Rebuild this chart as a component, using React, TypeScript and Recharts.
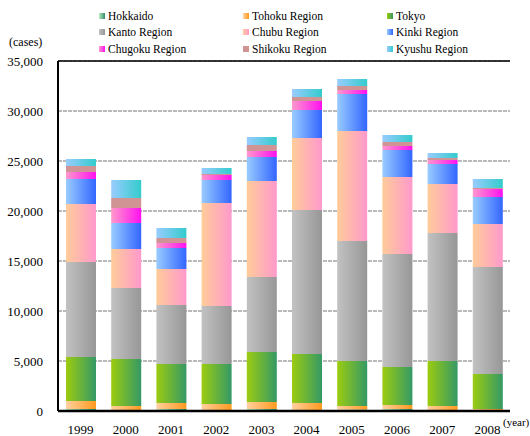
import React from "react";
import { Bar, BarChart, CartesianGrid, ReferenceLine, XAxis, YAxis } from "recharts";

const years = ["1999", "2000", "2001", "2002", "2003", "2004", "2005", "2006", "2007", "2008"];

// cases per region, stacked bottom to top
const hokkaido = [200, 50, 200, 30, 200, 30, 150, 200, 30, 30];
const tohoku = [800, 450, 600, 670, 700, 770, 350, 400, 470, 170];
const tokyo = [4400, 4700, 3900, 4000, 5000, 4900, 4500, 3800, 4500, 3500];
const kanto = [9500, 7100, 5900, 5800, 7500, 14400, 12000, 11300, 12800, 10700];
const chubu = [5800, 3900, 3600, 10300, 9600, 7200, 11000, 7700, 4900, 4300];
const kinki = [2500, 2600, 2100, 2300, 2400, 2800, 3700, 2700, 2000, 2700];
const chugoku = [700, 1500, 500, 500, 600, 900, 400, 400, 400, 800];
const shikoku = [600, 1000, 500, 100, 600, 400, 400, 400, 200, 100];
const kyushu = [700, 1800, 1000, 600, 800, 800, 700, 700, 500, 900];

const yTicks = [0, 5000, 10000, 15000, 20000, 25000, 30000, 35000];

const series = [
  { key: "hokkaido", name: "Hokkaido", values: hokkaido, from: "#b8ecc4", to: "#2f8a6a" },
  { key: "tohoku", name: "Tohoku Region", values: tohoku, from: "#ffd0a0", to: "#ff9a1e" },
  { key: "tokyo", name: "Tokyo", values: tokyo, from: "#9ccc10", to: "#349966" },
  { key: "kanto", name: "Kanto Region", values: kanto, from: "#c2c2c2", to: "#979797" },
  { key: "chubu", name: "Chubu Region", values: chubu, from: "#ffcc99", to: "#ff99cc" },
  { key: "kinki", name: "Kinki Region", values: kinki, from: "#99ccff", to: "#3366ff" },
  { key: "chugoku", name: "Chugoku Region", values: chugoku, from: "#ff99cc", to: "#ff10f0" },
  { key: "shikoku", name: "Shikoku Region", values: shikoku, from: "#d09494", to: "#d09494" },
  { key: "kyushu", name: "Kyushu Region", values: kyushu, from: "#99ccff", to: "#33cccc" },
];

const data = years.map((year, i) => {
  const row: Record<string, string | number> = { year };
  series.forEach((s) => (row[s.key] = s.values[i]));
  return row;
});

const font = "'Liberation Serif', 'Times New Roman', serif";

const Legend3 = () => (
  <>
    {series.map((s, i) => {
      const col = i % 3;
      const row = Math.floor(i / 3);
      const x = 99 + col * 144;
      const cy = 15.5 + row * 16.5;
      return (
        <div key={s.key}>
          <div
            style={{
              position: "absolute",
              left: x,
              top: cy - 3,
              width: 6,
              height: 6,
              background: `linear-gradient(to right, ${s.from}, ${s.to})`,
            }}
          />
          <div
            style={{
              position: "absolute",
              left: x + 9,
              top: cy - 8,
              lineHeight: "16px",
              fontSize: 11.5,
              whiteSpace: "nowrap",
            }}
          >
            {s.name}
          </div>
        </div>
      );
    })}
  </>
);

export default function App() {
  return (
    <div style={{ position: "relative", width: 530, height: 436, fontFamily: font, color: "#000" }}>
      <style>{`body{margin:0} svg text{font-family:${font}}`}</style>
      <Legend3 />
      <div style={{ position: "absolute", left: 9, top: 34, fontSize: 12, lineHeight: "16px" }}>(cases)</div>
      <div style={{ position: "absolute", left: 503, top: 414, fontSize: 11, lineHeight: "16px" }}>(year)</div>
      <BarChart
        width={530}
        height={436}
        data={data}
        margin={{ top: 61, right: 20, bottom: 0, left: 0 }}
        style={{ position: "absolute", left: 0, top: 0 }}
      >
        <defs>
          {series.map((s) => (
            <linearGradient key={s.key} id={`grad-${s.key}`} x1="0" y1="0" x2="1" y2="0">
              <stop offset="0%" stopColor={s.from} />
              <stop offset="100%" stopColor={s.to} />
            </linearGradient>
          ))}
        </defs>
        <CartesianGrid vertical={false} stroke="#a4a4a4" strokeWidth={1.5} strokeDasharray="4 1" />
        <XAxis
          dataKey="year"
          height={25}
          tickSize={0}
          tickMargin={14}
          axisLine={{ stroke: "#000", strokeWidth: 2.5 }}
          tick={{ fill: "#000", fontSize: 13, fontFamily: font }}
        />
        <YAxis
          width={58}
          domain={[0, 35000]}
          ticks={yTicks}
          interval={0}
          tickSize={0}
          tickMargin={15}
          axisLine={{ stroke: "#000", strokeWidth: 2 }}
          tick={{ fill: "#000", fontSize: 13, fontFamily: font }}
          tickFormatter={(v: number) => v.toLocaleString("en-US")}
        />
        <YAxis
          yAxisId="right"
          orientation="right"
          width={0}
          tick={false}
          tickLine={false}
          axisLine={{ stroke: "#000", strokeWidth: 2.5 }}
        />
        <ReferenceLine y={35000} stroke="#000" strokeWidth={1.5} />
        {series.map((s) => (
          <Bar
            key={s.key}
            dataKey={s.key}
            name={s.name}
            stackId="a"
            barSize={30}
            fill={`url(#grad-${s.key})`}
            isAnimationActive={false}
          />
        ))}
      </BarChart>
    </div>
  );
}
